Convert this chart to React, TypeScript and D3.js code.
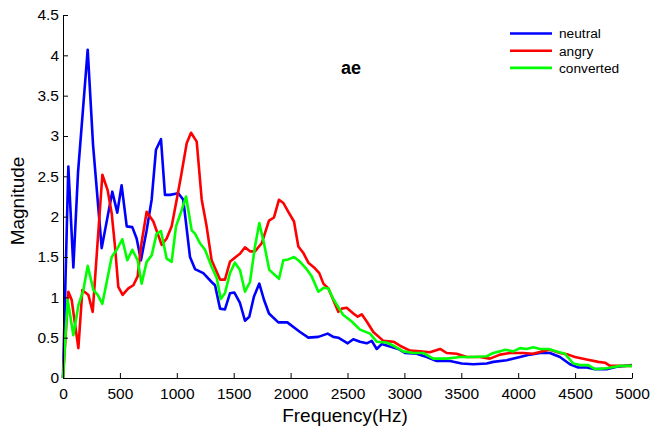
import React, { useEffect, useRef } from "react";
import * as d3 from "d3";

// neutral (blue)
const neutralFreq = [0, 47, 91, 132, 217, 264, 340, 433, 477, 515, 560, 609, 647, 685, 735, 779, 817, 861, 896, 940, 1013, 1057, 1116, 1160, 1233, 1306, 1336, 1380, 1423, 1467, 1505, 1555, 1599, 1637, 1678, 1725, 1766, 1810, 1892, 1971, 2083, 2156, 2244, 2326, 2375, 2419, 2502, 2551, 2610, 2669, 2713, 2757, 2800, 2873, 2946, 3005, 3108, 3196, 3284, 3401, 3503, 3606, 3723, 3781, 3899, 4016, 4104, 4192, 4279, 4367, 4455, 4528, 4602, 4675, 4778, 4866, 5000];
const neutralMag = [0, 2.62, 1.37, 2.55, 4.07, 2.89, 1.61, 2.31, 2.05, 2.39, 1.88, 1.87, 1.73, 1.46, 1.83, 2.21, 2.83, 2.96, 2.27, 2.27, 2.29, 2.21, 1.5, 1.35, 1.3, 1.19, 1.15, 0.86, 0.85, 1.05, 1.06, 0.93, 0.71, 0.76, 1.01, 1.17, 0.97, 0.8, 0.69, 0.69, 0.57, 0.5, 0.51, 0.55, 0.51, 0.5, 0.43, 0.48, 0.45, 0.43, 0.46, 0.36, 0.42, 0.39, 0.36, 0.31, 0.3, 0.26, 0.21, 0.21, 0.18, 0.17, 0.18, 0.2, 0.22, 0.26, 0.29, 0.31, 0.31, 0.26, 0.17, 0.13, 0.13, 0.11, 0.11, 0.14, 0.16];

// angry (red)
const angryFreq = [0, 47, 76, 135, 170, 223, 261, 346, 392, 428, 457, 486, 524, 574, 618, 656, 685, 735, 794, 867, 911, 955, 999, 1037, 1087, 1125, 1175, 1219, 1262, 1306, 1380, 1423, 1467, 1526, 1555, 1599, 1643, 1687, 1746, 1810, 1854, 1898, 1936, 1980, 2030, 2068, 2112, 2156, 2214, 2252, 2288, 2332, 2419, 2449, 2493, 2551, 2590, 2625, 2669, 2727, 2815, 2903, 2961, 3049, 3137, 3225, 3313, 3372, 3459, 3547, 3664, 3752, 3840, 3928, 4045, 4133, 4206, 4279, 4367, 4440, 4499, 4602, 4704, 4763, 4807, 4895, 5000];
const angryMag = [0, 1.07, 0.97, 0.37, 1.09, 1.03, 0.82, 2.52, 2.33, 2.04, 1.63, 1.13, 1.03, 1.11, 1.15, 1.26, 1.63, 2.06, 1.94, 1.65, 1.73, 1.88, 2.21, 2.5, 2.91, 3.04, 2.93, 2.21, 1.88, 1.46, 1.22, 1.22, 1.44, 1.51, 1.54, 1.62, 1.57, 1.57, 1.67, 1.95, 1.99, 2.21, 2.17, 2.06, 1.94, 1.63, 1.55, 1.43, 1.36, 1.3, 1.17, 1.11, 0.82, 0.86, 0.87, 0.8, 0.76, 0.79, 0.7, 0.57, 0.46, 0.45, 0.4, 0.34, 0.33, 0.32, 0.36, 0.31, 0.3, 0.26, 0.26, 0.24, 0.29, 0.31, 0.31, 0.3, 0.33, 0.35, 0.31, 0.29, 0.26, 0.23, 0.2, 0.19, 0.15, 0.15, 0.15];

// converted (green)
const convertedFreq = [0, 41, 91, 135, 179, 217, 267, 305, 346, 428, 472, 521, 565, 609, 656, 691, 735, 779, 823, 861, 911, 955, 993, 1043, 1081, 1131, 1160, 1204, 1248, 1306, 1351, 1386, 1423, 1467, 1511, 1555, 1599, 1643, 1687, 1725, 1766, 1813, 1898, 1936, 1980, 2030, 2083, 2135, 2185, 2244, 2294, 2332, 2375, 2463, 2537, 2610, 2698, 2757, 2844, 2917, 2990, 3078, 3166, 3254, 3372, 3489, 3606, 3723, 3781, 3840, 3884, 3957, 4016, 4074, 4133, 4192, 4265, 4338, 4411, 4484, 4543, 4616, 4675, 4778, 4895, 5000];
const convertedMag = [0, 0.97, 0.53, 0.9, 1.09, 1.39, 1.09, 1.03, 0.92, 1.5, 1.59, 1.72, 1.46, 1.59, 1.46, 1.17, 1.44, 1.52, 1.79, 1.82, 1.48, 1.44, 1.88, 2.08, 2.25, 1.83, 1.79, 1.67, 1.59, 1.38, 1.24, 0.98, 1.05, 1.3, 1.43, 1.34, 1.07, 1.19, 1.63, 1.92, 1.67, 1.34, 1.23, 1.46, 1.47, 1.5, 1.44, 1.36, 1.26, 1.07, 1.12, 1.11, 0.98, 0.78, 0.7, 0.6, 0.55, 0.45, 0.44, 0.39, 0.33, 0.31, 0.31, 0.24, 0.24, 0.26, 0.26, 0.27, 0.31, 0.33, 0.35, 0.33, 0.37, 0.36, 0.38, 0.36, 0.36, 0.33, 0.3, 0.18, 0.16, 0.16, 0.11, 0.12, 0.15, 0.15];

const xTicks = [0, 500, 1000, 1500, 2000, 2500, 3000, 3500, 4000, 4500, 5000];
const yTicks = [0, 0.5, 1, 1.5, 2, 2.5, 3, 3.5, 4, 4.5];
const seriesNames = ["neutral", "angry", "converted"];
const seriesColors = ["#0000ff", "#ff0000", "#00ff00"];

const FONT = "'Liberation Sans', Arial, Helvetica, sans-serif";

const App = () => {
  const ref = useRef<SVGSVGElement>(null);

  useEffect(() => {
    const width = 654;
    const height = 427;
    const svg = d3.select(ref.current);
    svg.selectAll("*").remove();

    const x = d3.scaleLinear().domain([0, 5000]).range([63, 632]);
    const y = d3.scaleLinear().domain([0, 4.5]).range([378, 15]);

    svg.append("rect").attr("width", width).attr("height", height).attr("fill", "#fff");

    const series = [
      neutralFreq.map((f, i) => [f, neutralMag[i]]),
      angryFreq.map((f, i) => [f, angryMag[i]]),
      convertedFreq.map((f, i) => [f, convertedMag[i]]),
    ];

    const line = d3
      .line<number[]>()
      .x((d) => x(d[0]))
      .y((d) => y(d[1]));

    series.forEach((s, i) => {
      svg
        .append("path")
        .attr("d", line(s))
        .attr("fill", "none")
        .attr("stroke", seriesColors[i])
        .attr("stroke-width", 2.6)
        .attr("stroke-linejoin", "round");
    });

    // axes (MATLAB style, ticks pointing inward)
    const xAxis = svg.append("g").attr("transform", `translate(0,${y(0)})`);
    xAxis.call(d3.axisBottom(x).tickValues(xTicks).tickSizeInner(-5).tickSizeOuter(0).tickPadding(10).tickFormat(d3.format("d")));
    const yAxis = svg.append("g").attr("transform", `translate(${x(0)},0)`);
    yAxis.call(d3.axisLeft(y).tickValues(yTicks).tickSizeInner(-5).tickSizeOuter(0).tickPadding(4).tickFormat((d) => String(d)));

    [xAxis, yAxis].forEach((g) => {
      g.select(".domain").attr("stroke", "#000").attr("stroke-width", 1);
      g.selectAll(".tick line").attr("stroke", "#000");
      g.selectAll(".tick text").attr("fill", "#000").style("font-family", FONT).style("font-size", "15.5px");
    });

    svg
      .append("text")
      .attr("x", 345)
      .attr("y", 422)
      .attr("text-anchor", "middle")
      .style("font-family", FONT)
      .style("font-size", "19px")
      .text("Frequency(Hz)");

    svg
      .append("text")
      .attr("transform", `translate(24,201) rotate(-90)`)
      .attr("text-anchor", "middle")
      .style("font-family", FONT)
      .style("font-size", "19px")
      .text("Magnitude");

    svg
      .append("text")
      .attr("x", 351)
      .attr("y", 74)
      .attr("text-anchor", "middle")
      .style("font-family", FONT)
      .style("font-size", "18px")
      .style("font-weight", "bold")
      .text("ae");

    // legend
    const legend = svg.append("g");
    seriesNames.forEach((name, i) => {
      const ly = 33.5 + i * 17.2;
      legend
        .append("line")
        .attr("x1", 510)
        .attr("x2", 552)
        .attr("y1", ly)
        .attr("y2", ly)
        .attr("stroke", seriesColors[i])
        .attr("stroke-width", 2.6);
      legend
        .append("text")
        .attr("x", 559)
        .attr("y", ly + 4.8)
        .style("font-family", FONT)
        .style("font-size", "13.7px")
        .text(name);
    });
  }, []);

  return (
    <div style={{ position: "absolute", left: 0, top: 0 }}>
      <svg ref={ref} width={654} height={427} style={{ display: "block" }}></svg>
    </div>
  );
};

export default App;
